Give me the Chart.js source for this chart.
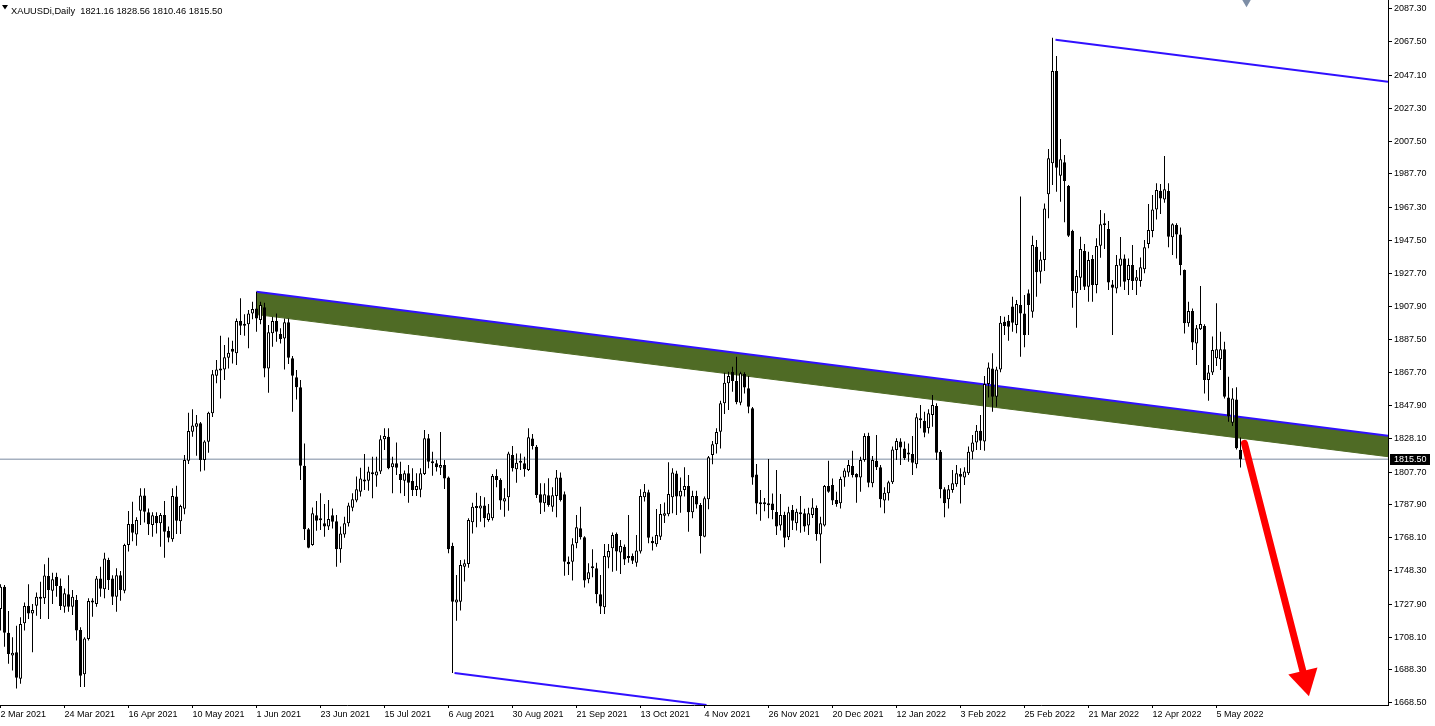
<!DOCTYPE html>
<html>
<head>
<meta charset="utf-8">
<script src="https://cdn.jsdelivr.net/npm/chart.js@4"></script>
<style>
  html, body { margin: 0; padding: 0; background: #fff; }
  #wrap { width: 1435px; height: 726px; }
</style>
</head>
<body>
<div id="wrap"><canvas id="goldChart" width="1435" height="726"></canvas></div>
<script>
// XAUUSDi daily, bar 0 = 2 Mar 2021 ... bar 310 = 13 May 2022
var opens = [
  1725.0, 1738.5, 1710.7, 1697.0, 1699.0, 1683.0, 1716.4, 1726.8, 1722.4, 1727.0,
  1732.5, 1731.5, 1745.0, 1736.0, 1744.5, 1739.0, 1726.4, 1734.0, 1726.4, 1730.5,
  1712.4, 1685.6, 1707.0, 1729.0, 1728.0, 1743.5, 1737.0, 1754.6, 1743.5, 1732.5,
  1745.5, 1736.0, 1763.7, 1776.3, 1770.1, 1784.4, 1793.5, 1783.4, 1775.8, 1781.2,
  1776.8, 1781.8, 1772.1, 1767.1, 1792.9, 1778.0, 1785.6, 1814.6, 1832.1, 1835.1,
  1837.2, 1815.0, 1826.0, 1843.2, 1865.9, 1870.2, 1869.7, 1876.8, 1882.2, 1879.4,
  1898.9, 1896.1, 1896.9, 1903.5, 1906.5, 1899.5, 1907.2, 1870.3, 1891.5, 1898.9,
  1891.1, 1888.4, 1898.1, 1876.4, 1864.9, 1858.9, 1811.6, 1773.2, 1763.7, 1781.6,
  1778.8, 1776.8, 1774.8, 1781.6, 1778.0, 1761.1, 1770.1, 1776.8, 1786.2, 1790.5,
  1795.9, 1802.0, 1802.5, 1807.6, 1805.6, 1808.0, 1827.5, 1829.1, 1810.6, 1813.0,
  1806.5, 1802.5, 1807.0, 1802.3, 1796.9, 1797.0, 1806.5, 1828.1, 1814.2, 1813.0,
  1810.4, 1812.0, 1804.5, 1763.1, 1729.0, 1729.5, 1750.6, 1752.2, 1777.4, 1786.0,
  1785.8, 1787.6, 1778.8, 1779.8, 1805.3, 1802.9, 1789.9, 1792.5, 1818.0, 1809.4,
  1813.4, 1813.0, 1809.0, 1828.0, 1823.0, 1794.3, 1788.9, 1793.7, 1786.8, 1793.3,
  1804.5, 1794.3, 1753.6, 1753.6, 1764.7, 1773.8, 1768.3, 1743.0, 1749.8, 1749.6,
  1733.9, 1726.1, 1756.2, 1761.7, 1770.3, 1759.1, 1762.7, 1757.0, 1757.0, 1753.0,
  1759.7, 1792.5, 1795.5, 1766.1, 1764.1, 1768.7, 1781.4, 1782.2, 1792.5, 1806.9,
  1792.9, 1796.9, 1799.3, 1783.4, 1793.3, 1787.8, 1768.7, 1791.3, 1818.0, 1824.5,
  1832.1, 1849.2, 1861.3, 1868.3, 1862.7, 1849.6, 1866.9, 1858.3, 1846.2, 1806.3,
  1789.4, 1789.2, 1788.0, 1788.8, 1783.6, 1775.4, 1781.8, 1768.3, 1784.8, 1776.8,
  1783.2, 1782.8, 1775.4, 1781.8, 1786.0, 1770.1, 1775.4, 1799.3, 1799.9, 1790.9,
  1788.9, 1804.5, 1807.4, 1811.4, 1806.5, 1804.5, 1815.0, 1829.5, 1800.9, 1814.6,
  1810.6, 1790.5, 1794.9, 1801.5, 1821.0, 1826.1, 1822.0, 1818.4, 1818.6, 1812.4,
  1840.2, 1838.7, 1834.1, 1842.2, 1847.6, 1820.0, 1797.3, 1791.3, 1796.9, 1800.3,
  1806.5, 1804.5, 1807.0, 1820.0, 1825.5, 1832.7, 1826.1, 1860.9, 1870.3, 1853.2,
  1869.7, 1898.5, 1899.1, 1907.6, 1896.5, 1908.6, 1903.5, 1915.6, 1904.5, 1943.8,
  1928.7, 1935.7, 1975.4, 1994.1, 2049.8, 1986.6, 1994.7, 1980.4, 1953.2, 1915.6,
  1925.1, 1941.2, 1919.6, 1936.3, 1920.6, 1944.4, 1957.9, 1954.4, 1921.0, 1918.6,
  1932.3, 1936.7, 1923.6, 1932.7, 1923.2, 1923.0, 1930.1, 1945.4, 1953.2, 1966.3,
  1977.6, 1972.3, 1977.4, 1949.4, 1956.9, 1951.2, 1929.7, 1897.5, 1904.9, 1885.4,
  1893.9, 1895.9, 1863.3, 1867.9, 1876.4, 1875.8, 1881.8, 1852.8, 1837.5, 1851.6,
  1821.16
];
var highs = [
  1740.0, 1739.5, 1723.8, 1708.0, 1715.0, 1720.0, 1729.0, 1740.0, 1728.0, 1735.0,
  1741.5, 1752.0, 1756.0, 1747.0, 1747.0, 1743.5, 1737.5, 1745.5, 1736.5, 1733.5,
  1714.0, 1708.0, 1731.5, 1731.5, 1745.0, 1750.6, 1759.0, 1756.0, 1745.5, 1749.6,
  1748.0, 1764.5, 1784.2, 1789.8, 1780.4, 1797.9, 1797.9, 1785.8, 1783.4, 1783.4,
  1783.0, 1790.3, 1774.8, 1797.9, 1799.5, 1788.0, 1818.0, 1843.6, 1845.6, 1842.2,
  1838.0, 1827.0, 1844.2, 1869.3, 1875.4, 1890.0, 1884.4, 1889.0, 1887.0, 1900.5,
  1912.6, 1903.0, 1905.5, 1910.6, 1916.6, 1910.6, 1910.0, 1896.5, 1901.5, 1903.5,
  1894.5, 1900.5, 1900.5, 1877.8, 1869.3, 1863.3, 1825.0, 1774.0, 1786.4, 1790.2,
  1794.9, 1788.4, 1790.8, 1785.8, 1781.8, 1774.8, 1780.8, 1789.2, 1794.9, 1805.0,
  1810.4, 1818.6, 1811.0, 1817.0, 1817.0, 1829.9, 1834.1, 1834.1, 1817.0, 1825.5,
  1814.0, 1808.6, 1812.0, 1810.0, 1807.0, 1810.0, 1833.1, 1830.7, 1820.0, 1815.0,
  1831.9, 1815.0, 1805.0, 1765.1, 1745.6, 1754.6, 1755.0, 1779.8, 1789.2, 1795.3,
  1793.3, 1792.5, 1788.4, 1806.5, 1809.4, 1804.0, 1797.9, 1820.0, 1823.5, 1819.0,
  1819.0, 1817.0, 1834.1, 1830.7, 1824.0, 1800.9, 1800.9, 1804.0, 1798.5, 1809.0,
  1807.4, 1796.0, 1756.7, 1767.7, 1781.8, 1786.8, 1769.0, 1752.6, 1761.1, 1753.0,
  1745.6, 1764.3, 1764.3, 1771.2, 1771.2, 1766.7, 1764.0, 1781.8, 1758.5, 1769.7,
  1797.3, 1800.5, 1797.0, 1768.7, 1785.4, 1788.4, 1789.4, 1813.6, 1810.0, 1808.5,
  1804.5, 1810.6, 1805.9, 1796.5, 1796.5, 1789.0, 1792.9, 1817.4, 1826.5, 1834.1,
  1850.8, 1867.7, 1868.3, 1871.3, 1877.4, 1868.3, 1868.0, 1865.7, 1847.0, 1812.6,
  1796.9, 1792.0, 1815.6, 1794.8, 1809.0, 1794.5, 1783.8, 1786.8, 1787.8, 1785.5,
  1793.3, 1785.5, 1786.2, 1791.9, 1787.5, 1780.8, 1799.9, 1814.6, 1803.9, 1795.9,
  1804.9, 1810.0, 1815.0, 1820.6, 1807.0, 1817.0, 1831.1, 1831.5, 1817.4, 1830.1,
  1812.0, 1798.5, 1802.5, 1823.1, 1828.1, 1828.1, 1826.1, 1825.0, 1829.5, 1843.2,
  1848.2, 1844.2, 1845.6, 1854.3, 1849.2, 1821.0, 1798.5, 1799.9, 1809.0, 1812.0,
  1810.0, 1810.6, 1823.1, 1830.1, 1836.1, 1842.2, 1865.7, 1873.8, 1879.4, 1871.3,
  1902.0, 1901.5, 1902.5, 1913.6, 1911.6, 1974.0, 1914.6, 1918.0, 1950.4, 1947.8,
  1940.7, 1969.9, 2002.7, 2069.9, 2058.9, 2008.8, 1999.1, 1981.0, 1954.0, 1929.7,
  1949.8, 1945.4, 1940.7, 1938.7, 1948.8, 1965.9, 1963.9, 1959.3, 1923.7, 1938.7,
  1949.6, 1939.0, 1936.7, 1944.8, 1929.7, 1937.3, 1947.8, 1969.5, 1975.0, 1982.0,
  1981.6, 1998.5, 1982.0, 1957.9, 1958.0, 1955.4, 1930.0, 1910.6, 1906.5, 1896.5,
  1920.0, 1897.0, 1872.3, 1889.5, 1909.6, 1892.5, 1886.4, 1865.3, 1858.3, 1858.9,
  1828.56
];
var lows = [
  1712.0, 1702.3, 1692.0, 1688.0, 1677.0, 1680.0, 1712.0, 1719.0, 1699.0, 1721.0,
  1719.0, 1728.0, 1719.0, 1728.0, 1732.5, 1724.4, 1722.8, 1723.4, 1721.4, 1706.0,
  1678.0, 1678.0, 1706.0, 1720.4, 1726.4, 1732.5, 1731.5, 1736.5, 1727.4, 1723.4,
  1730.0, 1734.5, 1759.7, 1766.0, 1763.3, 1775.8, 1777.2, 1769.7, 1768.7, 1770.7,
  1762.7, 1756.0, 1765.3, 1765.7, 1770.3, 1770.3, 1782.2, 1812.6, 1829.1, 1817.6,
  1808.0, 1808.6, 1819.4, 1841.0, 1861.3, 1852.2, 1863.3, 1870.3, 1873.3, 1872.3,
  1890.5, 1890.0, 1882.4, 1900.0, 1892.5, 1897.0, 1864.9, 1855.6, 1883.4, 1886.4,
  1885.4, 1869.7, 1873.0, 1844.2, 1851.6, 1802.9, 1766.7, 1761.7, 1763.3, 1772.3,
  1772.7, 1768.7, 1772.7, 1773.7, 1750.6, 1753.0, 1768.0, 1774.8, 1784.0, 1789.5,
  1792.9, 1796.9, 1796.5, 1791.9, 1798.9, 1806.6, 1821.0, 1809.4, 1794.9, 1806.0,
  1794.9, 1793.3, 1789.2, 1793.3, 1793.3, 1792.5, 1806.0, 1810.0, 1805.5, 1808.0,
  1806.0, 1797.5, 1758.7, 1686.4, 1718.0, 1724.1, 1741.6, 1750.0, 1770.7, 1774.4,
  1777.8, 1774.4, 1777.8, 1778.5, 1798.5, 1785.0, 1780.8, 1784.4, 1808.0, 1801.3,
  1809.0, 1804.9, 1808.4, 1821.4, 1792.0, 1782.4, 1783.8, 1786.8, 1783.8, 1780.4,
  1790.0, 1745.2, 1745.6, 1742.2, 1761.7, 1767.0, 1738.1, 1740.6, 1744.2, 1728.5,
  1722.0, 1722.0, 1749.6, 1747.6, 1748.2, 1746.2, 1751.6, 1753.0, 1752.2, 1750.6,
  1758.6, 1789.9, 1764.7, 1760.3, 1762.7, 1766.7, 1777.0, 1781.0, 1782.8, 1781.8,
  1783.2, 1792.9, 1771.7, 1779.8, 1785.8, 1758.6, 1768.3, 1785.2, 1812.4, 1819.0,
  1822.0, 1842.8, 1845.2, 1856.2, 1848.6, 1848.0, 1855.2, 1843.2, 1800.0, 1782.2,
  1778.4, 1784.0, 1779.8, 1779.2, 1769.7, 1772.4, 1762.3, 1766.7, 1772.8, 1772.4,
  1771.1, 1771.7, 1769.7, 1780.0, 1766.3, 1752.6, 1774.8, 1795.3, 1787.8, 1786.8,
  1785.8, 1798.9, 1804.9, 1804.5, 1789.2, 1795.9, 1814.0, 1798.5, 1798.5, 1809.0,
  1786.4, 1782.8, 1790.5, 1800.5, 1815.0, 1812.0, 1815.0, 1814.0, 1806.0, 1810.0,
  1834.1, 1828.7, 1831.0, 1835.1, 1815.0, 1791.9, 1780.4, 1785.8, 1795.3, 1798.9,
  1788.8, 1799.9, 1806.0, 1815.4, 1821.0, 1821.0, 1820.6, 1852.8, 1844.2, 1847.2,
  1868.0, 1890.5, 1887.0, 1892.5, 1891.5, 1877.4, 1883.0, 1890.5, 1900.9, 1913.6,
  1921.6, 1929.1, 1961.0, 1981.0, 1977.0, 1970.9, 1958.5, 1949.6, 1906.9, 1894.9,
  1917.6, 1917.6, 1910.6, 1910.6, 1915.6, 1937.1, 1942.4, 1917.6, 1890.5, 1915.6,
  1919.6, 1917.6, 1914.6, 1917.6, 1914.6, 1919.6, 1927.7, 1942.8, 1949.4, 1960.2,
  1963.5, 1970.3, 1943.4, 1938.7, 1936.7, 1926.6, 1891.4, 1895.5, 1881.4, 1872.3,
  1893.5, 1855.2, 1850.8, 1866.3, 1871.7, 1869.3, 1852.2, 1838.1, 1835.5, 1821.4,
  1810.46
];
var closes = [
  1738.5, 1710.7, 1697.9, 1698.6, 1683.6, 1716.0, 1726.8, 1722.4, 1724.4, 1732.5,
  1731.3, 1745.3, 1736.5, 1743.0, 1739.0, 1726.8, 1734.5, 1726.4, 1732.5, 1712.0,
  1684.8, 1707.3, 1729.9, 1730.2, 1743.5, 1737.3, 1755.6, 1742.5, 1732.5, 1745.5,
  1736.5, 1763.7, 1776.3, 1771.1, 1778.8, 1793.5, 1783.8, 1776.2, 1781.6, 1776.8,
  1781.8, 1771.7, 1768.1, 1793.3, 1778.4, 1787.2, 1815.0, 1832.5, 1835.9, 1837.2,
  1815.0, 1826.1, 1843.6, 1866.7, 1869.7, 1869.0, 1877.0, 1879.8, 1880.4, 1898.9,
  1896.1, 1897.3, 1903.5, 1906.1, 1900.5, 1908.6, 1870.3, 1892.1, 1898.9, 1892.5,
  1888.0, 1898.1, 1876.8, 1865.9, 1858.9, 1811.6, 1773.2, 1762.1, 1782.8, 1778.4,
  1779.8, 1774.8, 1779.4, 1777.8, 1761.1, 1770.7, 1776.8, 1787.6, 1791.3, 1797.3,
  1803.9, 1803.2, 1808.0, 1806.4, 1808.0, 1827.5, 1829.5, 1810.0, 1813.0, 1810.4,
  1802.9, 1807.0, 1801.3, 1796.9, 1799.3, 1807.0, 1828.1, 1814.0, 1813.0, 1810.6,
  1812.0, 1803.9, 1761.1, 1729.5, 1730.8, 1751.6, 1752.6, 1778.8, 1786.8, 1787.2,
  1787.6, 1779.8, 1782.8, 1805.3, 1802.9, 1790.5, 1791.9, 1819.0, 1810.0, 1813.4,
  1814.4, 1809.4, 1828.7, 1823.4, 1793.9, 1789.2, 1794.3, 1787.8, 1793.7, 1804.5,
  1790.9, 1753.6, 1752.0, 1764.1, 1774.4, 1768.3, 1742.2, 1747.2, 1750.8, 1733.9,
  1726.5, 1757.0, 1760.1, 1769.7, 1759.7, 1763.1, 1755.0, 1756.0, 1754.2, 1760.3,
  1793.3, 1795.9, 1768.1, 1764.7, 1769.7, 1782.4, 1782.8, 1794.5, 1807.5, 1792.9,
  1796.5, 1799.3, 1783.4, 1793.3, 1788.2, 1769.1, 1791.9, 1816.6, 1824.5, 1831.9,
  1849.2, 1861.7, 1865.7, 1862.7, 1849.8, 1867.3, 1858.7, 1847.2, 1804.5, 1788.8,
  1788.4, 1788.6, 1788.6, 1784.8, 1774.8, 1781.8, 1768.1, 1783.4, 1778.4, 1783.8,
  1782.4, 1774.8, 1782.8, 1786.4, 1770.3, 1776.8, 1799.3, 1795.9, 1790.5, 1788.4,
  1803.5, 1808.6, 1812.0, 1806.0, 1804.5, 1815.0, 1829.5, 1801.3, 1815.0, 1810.6,
  1791.3, 1795.3, 1801.5, 1821.4, 1826.5, 1822.5, 1816.0, 1819.4, 1813.4, 1840.8,
  1839.0, 1831.5, 1843.2, 1848.2, 1819.4, 1797.3, 1788.9, 1797.3, 1800.9, 1807.0,
  1804.9, 1808.0, 1820.0, 1825.5, 1832.7, 1826.7, 1860.9, 1870.9, 1853.2, 1869.7,
  1897.9, 1895.9, 1895.5, 1897.9, 1909.2, 1903.5, 1890.5, 1908.6, 1944.8, 1928.3,
  1936.1, 1966.9, 1997.1, 2049.8, 1991.5, 1996.5, 1983.4, 1950.4, 1917.0, 1926.1,
  1942.4, 1919.6, 1935.7, 1920.6, 1944.2, 1957.3, 1956.9, 1922.2, 1919.0, 1932.7,
  1936.7, 1922.6, 1932.7, 1923.0, 1925.3, 1931.3, 1943.4, 1953.9, 1966.3, 1978.0,
  1972.9, 1978.4, 1949.8, 1957.3, 1951.2, 1932.7, 1897.5, 1904.9, 1886.0, 1894.5,
  1897.1, 1863.3, 1867.9, 1881.4, 1881.8, 1881.8, 1853.2, 1841.2, 1852.2, 1822.1,
  1815.50
];

// one date label every 16 bars
var dateLabels = ["2 Mar 2021", "24 Mar 2021", "16 Apr 2021", "10 May 2021", "1 Jun 2021",
  "23 Jun 2021", "15 Jul 2021", "6 Aug 2021", "30 Aug 2021", "21 Sep 2021", "13 Oct 2021",
  "4 Nov 2021", "26 Nov 2021", "20 Dec 2021", "12 Jan 2022", "3 Feb 2022", "25 Feb 2022",
  "21 Mar 2022", "12 Apr 2022", "5 May 2022"];
var priceTicks = [2087.30, 2067.50, 2047.10, 2027.30, 2007.50, 1987.70, 1967.30, 1947.50,
  1927.70, 1907.90, 1887.50, 1867.70, 1847.90, 1828.10, 1807.70, 1787.90, 1768.10,
  1748.30, 1727.90, 1708.10, 1688.30, 1668.50];

var lastPrice = 1815.50;
var headerText = "XAUUSDi,Daily  1821.16 1828.56 1810.46 1815.50";

// drawn objects as [bar index, price]
var channelTop = [[64, 1916.6], [346.875, 1829.6]];
var channelBottom = [[64, 1902.8], [346.875, 1817.0]];
var peakLine = [[263.75, 2068.7], [346.875, 2043.3]];
var lowLine = [[113.5, 1686.4], [176.5, 1667.1]];
var arrowShaft = [[311, 1825.1], [325.6, 1687.5]];
var arrowHead = [326.1, 1682.6];
var shiftMark = [311.5, 2091.9];

function pts(arr) {
  return arr.map(function (p) { return { x: p[0], y: p[1] }; });
}

var wickData = [], bodyData = [], bodyColors = [];
for (var i = 0; i < closes.length; i++) {
  wickData.push({ x: i, y: [lows[i], highs[i]] });
  var lo = Math.min(opens[i], closes[i]);
  var hi = Math.max(opens[i], closes[i]);
  if (hi - lo < 1.2) {           // keep dojis visible as a thin dash
    var mid = (hi + lo) / 2;
    lo = mid - 0.6; hi = mid + 0.6;
  }
  bodyData.push({ x: i, y: [lo, hi] });
  bodyColors.push(closes[i] >= opens[i] ? '#ffffff' : '#000000');
}

var overlay = {
  id: 'mt4Overlay',
  afterDraw: function (chart) {
    var ctx = chart.ctx;
    var area = chart.chartArea;
    var py = Math.round(chart.scales.y.getPixelForValue(lastPrice));
    ctx.save();
    ctx.fillStyle = '#000';
    ctx.beginPath();
    ctx.moveTo(2, 5); ctx.lineTo(8, 5); ctx.lineTo(5, 9.5); ctx.closePath();
    ctx.fill();
    ctx.font = '9.3px "Liberation Sans"';
    ctx.textAlign = 'left';
    ctx.textBaseline = 'middle';
    ctx.fillText(headerText, 11, 11);
    // last price box on the price scale
    ctx.fillRect(area.right + 2, py - 5, 40, 11);
    ctx.fillStyle = '#fff';
    ctx.font = '9px "Liberation Sans"';
    ctx.fillText(lastPrice.toFixed(2), area.right + 6, py + 0.5);
    ctx.restore();
  }
};

// no extra room for the outer tick labels, the plot fills the frame
function noAxisPadding(scale) {
  scale.paddingTop = 0;
  scale.paddingBottom = 0;
  scale.paddingLeft = 0;
  scale.paddingRight = 0;
}

var ctx = document.getElementById('goldChart').getContext('2d');
var chart = new Chart(ctx, {
  type: 'bar',
  data: {
    datasets: [
      { type: 'line', data: [{ x: arrowHead[0], y: arrowHead[1] }], showLine: false,
        pointStyle: 'triangle', pointRadius: 17.3, pointRotation: 166.5,
        pointBackgroundColor: '#ff0000', pointBorderWidth: 0, order: 0 },
      { type: 'line', data: pts(arrowShaft), borderColor: '#ff0000', borderWidth: 7,
        borderCapStyle: 'round', pointRadius: 0, order: 0 },
      { data: bodyData, backgroundColor: bodyColors, borderColor: '#000', borderWidth: 1,
        borderSkipped: false, barThickness: 3, grouped: false, inflateAmount: 0, order: 1 },
      { data: wickData, backgroundColor: '#000', borderWidth: 0,
        barThickness: 1, grouped: false, inflateAmount: 0, order: 2 },
      { type: 'line', data: pts(channelTop), borderColor: '#3010ff', borderWidth: 2,
        pointRadius: 0, order: 3 },
      { type: 'line', data: pts(peakLine), borderColor: '#3010ff', borderWidth: 2,
        pointRadius: 0, order: 3 },
      { type: 'line', data: pts(lowLine), borderColor: '#3010ff', borderWidth: 2,
        pointRadius: 0, order: 3 },
      { type: 'line', data: [{ x: -0.125, y: lastPrice }, { x: 346.875, y: lastPrice }],
        borderColor: '#7a8aa0', borderWidth: 1, pointRadius: 0, order: 4 },
      { type: 'line', data: pts(channelBottom), borderColor: '#4f6b25', borderWidth: 1,
        backgroundColor: '#4f6b25', fill: 4, pointRadius: 0, order: 5 },
      { type: 'line', data: [{ x: shiftMark[0], y: shiftMark[1] }], showLine: false,
        pointStyle: 'triangle', pointRadius: 6, pointRotation: 180,
        pointBackgroundColor: '#7d8ea6', pointBorderWidth: 0, order: 0 }
    ]
  },
  options: {
    responsive: false,
    animation: false,
    devicePixelRatio: 1,
    events: [],
    layout: { padding: 0, autoPadding: false },
    plugins: { legend: { display: false }, tooltip: { enabled: false } },
    scales: {
      x: {
        type: 'linear',
        position: 'bottom',
        min: -0.125,
        max: 346.875,
        offset: false,
        grid: { offset: false, drawOnChartArea: false, drawTicks: true, tickLength: 3, color: '#000' },
        border: { display: true, color: '#000' },
        afterBuildTicks: function (scale) {
          scale.ticks = dateLabels.map(function (d, k) { return { value: k * 16 }; });
        },
        afterFit: function (scale) { scale.height = 21; noAxisPadding(scale); },
        ticks: {
          autoSkip: false,
          maxRotation: 0,
          minRotation: 0,
          align: 'start',
          padding: 1,
          color: '#000',
          font: { family: 'Liberation Sans', size: 9 },
          callback: function (value) { return dateLabels[Math.round(value / 16)]; }
        }
      },
      y: {
        type: 'linear',
        position: 'right',
        min: 1667.1,
        max: 2092.7,
        grid: { drawOnChartArea: false, drawTicks: true, tickLength: 4, color: '#000' },
        border: { display: true, color: '#000' },
        afterBuildTicks: function (scale) {
          scale.ticks = priceTicks.map(function (v) { return { value: v }; });
        },
        afterFit: function (scale) { scale.width = 47; noAxisPadding(scale); },
        ticks: {
          autoSkip: false,
          padding: 2,
          color: '#000',
          font: { family: 'Liberation Sans', size: 9 },
          callback: function (value) { return value.toFixed(2); }
        }
      }
    }
  },
  plugins: [overlay]
});
</script>
</body>
</html>
